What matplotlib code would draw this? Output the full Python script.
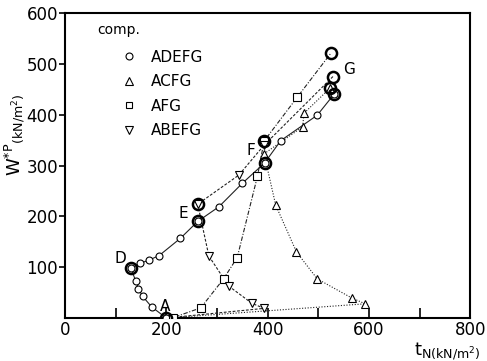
import numpy as np
import matplotlib
matplotlib.use("Agg")
import matplotlib.pyplot as plt
from matplotlib.lines import Line2D

plt.rcParams['font.family'] = ['DejaVu Sans']
plt.rcParams['mathtext.fontset'] = 'dejavusans'

# --- stress paths (tN, W*P in kN/m2) ---
adefg_x = [200, 171, 153, 145, 140, 130, 149, 166, 186, 228, 262, 304, 350, 394, 426, 498, 531]
adefg_y = [0, 22, 43, 58, 72, 98, 108, 114, 123, 157, 190, 219, 265, 305, 349, 399, 440]

acfg_x = [200, 593, 567, 498, 457, 416, 393, 469, 472, 523]
acfg_y = [0, 28, 39, 77, 130, 222, 323, 376, 403, 452]

afg_x = [200, 214, 268, 313, 340, 380, 393, 459, 525]
afg_y = [0, 1, 20, 77, 119, 279, 348, 435, 521]

abefg_x = [200, 393, 369, 323, 284, 262, 343, 393, 529]
abefg_y = [0, 19, 29, 63, 122, 224, 281, 340, 475]

# key points (double circles)
key_x = [200, 130, 262, 262, 394, 393, 525, 529, 523, 531]
key_y = [0, 98, 190, 224, 305, 348, 521, 475, 452, 440]

point_labels = ['A', 'D', 'E', 'F', 'G']
label_x = [198, 110, 234, 366, 560]
label_y = [22, 118, 206, 330, 488]

fig = plt.figure(figsize=(4.87, 3.61), dpi=100)
ax = fig.add_axes([0.1335, 0.119, 0.832, 0.845])

mk = dict(mfc='white', mec='black', mew=0.8)
ax.plot(adefg_x, adefg_y, '-', lw=0.8, color='#222222', marker='o', ms=5, **mk, zorder=3)
ax.plot(acfg_x, acfg_y, lw=0.8, color='#222222', dashes=(1, 1.5), zorder=2)
ax.plot(acfg_x[1:], acfg_y[1:], 'none', marker='^', ms=6, **mk, zorder=3)
ax.plot(afg_x, afg_y, lw=0.8, color='#222222', dashes=(4, 1.5, 1, 1.5), zorder=2)
ax.plot(afg_x[1:-1], afg_y[1:-1], 'none', marker='s', ms=5.5, **mk, zorder=3)
ax.plot(abefg_x, abefg_y, lw=0.8, color='#222222', dashes=(2.5, 1.5), zorder=2)
ax.plot(abefg_x[1:-1], abefg_y[1:-1], 'none', marker='v', ms=6, **mk, zorder=3)
ax.plot(key_x, key_y, 'none', marker='o', ms=8, mfc='none', mec='black', mew=1.8, zorder=4)

for t, x, y in zip(point_labels, label_x, label_y):
    ax.text(x, y, t, fontsize=11, ha='center', va='center')

# legend
ax.text(0.08, 0.945, 'comp.', transform=ax.transAxes, fontsize=10, va='center')
handles = [Line2D([], [], ls='none', marker=m, ms=s, mfc='white', mec='black', mew=0.8)
           for m, s in [('o', 5), ('^', 6), ('s', 5), ('v', 6)]]
ax.legend(handles, ['ADEFG', 'ACFG', 'AFG', 'ABEFG'], loc='upper left',
          bbox_to_anchor=(0.125, 0.905), frameon=False, fontsize=11,
          handlelength=0.8, handletextpad=1.0, labelspacing=0.62, borderpad=0)

ax.set_xlim(0, 800)
ax.set_ylim(0, 600)
ax.set_xticks([0, 200, 400, 600, 800])
ax.set_xticks([100, 300, 500, 700], minor=True)
ax.set_yticks([100, 200, 300, 400, 500, 600])
ax.tick_params(axis='x', direction='in', length=7, width=1.2, labelsize=12, pad=2)
ax.tick_params(axis='x', which='minor', direction='in', length=7, width=1.2)
ax.tick_params(axis='y', direction='out', length=4, width=1.2, labelsize=12, pad=1)
for s in ax.spines.values():
    s.set_linewidth(1.5)

ax.text(-0.125, 0.60, r'$\mathsf{W}^{*\mathsf{P}}{}_{\mathsf{(kN/m^2)}}$',
        transform=ax.transAxes, rotation=90, fontsize=13, ha='center', va='center')
ax.text(1.025, -0.124, r'$\mathsf{t}_{\mathsf{N(kN/m^2)}}$',
        transform=ax.transAxes, fontsize=13, ha='right', va='baseline')

fig.savefig('out.png', dpi=100)
